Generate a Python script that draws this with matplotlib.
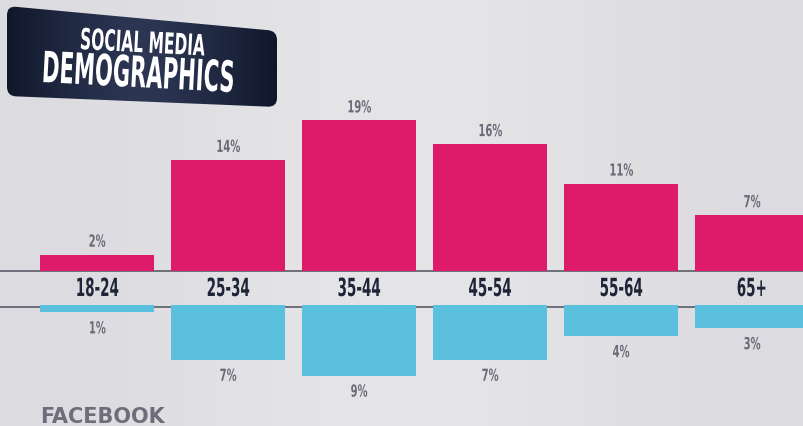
import matplotlib
matplotlib.use("Agg")
import matplotlib.pyplot as plt
import numpy as np
from matplotlib.path import Path
from matplotlib.patches import PathPatch
from matplotlib.patheffects import AbstractPathEffect
from matplotlib.transforms import Affine2D

# data
age_groups = ["18-24", "25-34", "35-44", "45-54", "55-64", "65+"]
share_a = [2, 14, 19, 16, 11, 7]      # pink, upward
share_b = [1, 7, 9, 7, 4, 3]          # blue, downward
title_top = "SOCIAL MEDIA"
title_main = "DEMOGRAPHICS"
footer = "FACEBOOK"

W, H = 804, 427
PINK = "#de1a6a"
BLUE = "#5bbfde"
NAVY = "#1f2538"
GREY = "#6b6b78"


class Squeeze(AbstractPathEffect):
    # narrows the glyphs horizontally, the text stays a normal Text artist
    def __init__(self, sx, anchor="center"):
        super().__init__()
        self.sx = sx
        self.anchor = anchor

    def draw_path(self, renderer, gc, tpath, affine, rgbFace=None):
        ext = tpath.get_extents()
        cx = (ext.x0 + ext.x1) / 2 if self.anchor == "center" else 0
        squeeze = Affine2D().translate(-cx, 0).scale(self.sx, 1).translate(cx, 0)
        renderer.draw_path(gc, tpath, squeeze + affine, rgbFace)


def label(ax, x, y, s, sx, anchor="center", **kw):
    t = ax.text(x, y, s, ha=anchor, va="center", family="DejaVu Sans",
                fontweight="bold", rotation_mode="anchor", **kw)
    t.set_path_effects([Squeeze(sx, anchor)])
    return t


fig = plt.figure(figsize=(W / 100, H / 100), dpi=100)

# full figure overlay in pixel coordinates for decorations
bg = fig.add_axes([0, 0, 1, 1])
bg.set_xlim(0, W)
bg.set_ylim(H, 0)
bg.axis("off")
grad = np.linspace(0, 1, 256)
grad = 0.5 + 0.5 * np.cos(grad * 2 * np.pi)
bg.imshow(grad[None, :], extent=[0, W, H, 0], aspect="auto",
          cmap=matplotlib.colors.LinearSegmentedColormap.from_list("b", ["#e5e5e8", "#dcdce0"]),
          zorder=0)


def rounded_poly(pts, r):
    pts = np.asarray(pts, float)
    n = len(pts)
    verts, codes = [], []
    for i in range(n):
        p = pts[i]
        a = pts[i - 1]
        b = pts[(i + 1) % n]
        pa = p + r * (a - p) / np.linalg.norm(a - p)
        pb = p + r * (b - p) / np.linalg.norm(b - p)
        verts += [pa, p, pb]
        codes += [Path.MOVETO if i == 0 else Path.LINETO, Path.CURVE3, Path.CURVE3]
    verts.append(verts[0])
    codes.append(Path.CLOSEPOLY)
    return Path(verts, codes)


badge = rounded_poly([(7, 7), (277, 32), (277, 108), (7, 97)], 9)
patch = PathPatch(badge, facecolor="none", edgecolor="none", zorder=2)
bg.add_patch(patch)
bgrad = np.linspace(-1, 1, 256)
bgrad = 1 - np.abs(bgrad) ** 1.5
im = bg.imshow(bgrad[None, :], extent=[7, 277, 108, 7], aspect="auto",
               cmap=matplotlib.colors.LinearSegmentedColormap.from_list("n", ["#0f172a", "#2c3552"]),
               zorder=2)
im.set_clip_path(patch)
label(bg, 80, 42, title_top, 0.53, anchor="left", color="white", fontsize=21,
      rotation=-3, zorder=3)
label(bg, 42, 71, title_main, 0.49, anchor="left", color="white", fontsize=31,
      rotation=-3, zorder=3)

# baselines
bg.plot([0, W], [271.5, 271.5], color="#6e6e7a", lw=1.4, zorder=4)
bg.plot([0, W], [307.5, 307.5], color="#6e6e7a", lw=1.4, zorder=4)

bg.text(40, 417.5, footer, color="#6e6e7a", fontsize=15, fontweight="bold",
        family="DejaVu Sans", ha="left", va="center")

# bars
scale = 7.9  # px per percent
x = np.arange(len(age_groups))
xl = (-97 / 131, (W - 97) / 131)

top = fig.add_axes([0, (H - 271.5) / H, 1, 22 * scale / H])
top.set_xlim(*xl)
top.set_ylim(0, 22)
top.axis("off")
top.patch.set_alpha(0)
top.bar(x, share_a, width=114 / 131, color=PINK, zorder=3)
for xi, v in zip(x, share_a):
    label(top, xi, v + 13 / scale, f"{v}%", 0.6, color=GREY, fontsize=12)

bot = fig.add_axes([0, (H - 305.5 - 12 * scale) / H, 1, 12 * scale / H])
bot.set_xlim(*xl)
bot.set_ylim(-12, 0)
bot.axis("off")
bot.patch.set_alpha(0)
bot.bar(x, [-v for v in share_b], width=114 / 131, color=BLUE, zorder=3)
for xi, v in zip(x, share_b):
    label(bot, xi, -v - 16 / scale, f"{v}%", 0.6, color=GREY, fontsize=12)

for i, lab in enumerate(age_groups):
    label(bg, 97 + 131 * i, 290, lab, 0.54, color=NAVY, fontsize=18, zorder=5)

fig.savefig("out.png", dpi=100)
